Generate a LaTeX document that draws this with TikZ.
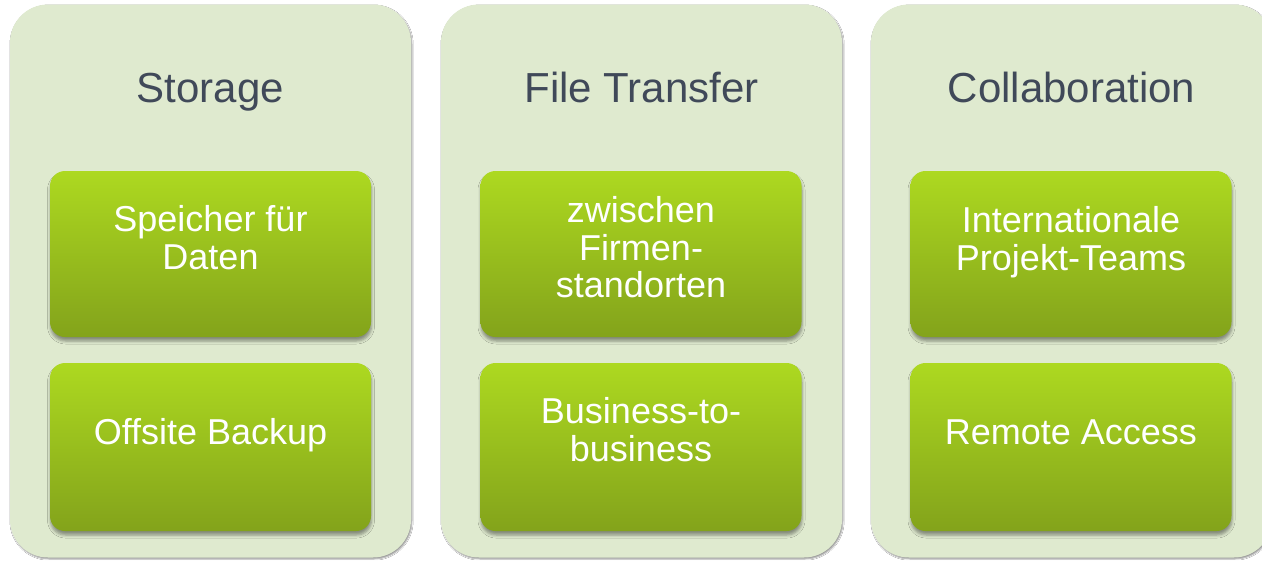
\documentclass[tikz,border=0pt]{standalone}
\usepackage{fontspec}
\setmainfont{Liberation Sans}
\usetikzlibrary{shadows.blur}
\definecolor{panelfill}{RGB}{223,234,207}
\definecolor{titlecol}{RGB}{64,73,89}
\definecolor{gtop}{RGB}{173,217,32}
\definecolor{gbot}{RGB}{131,163,27}
\tikzset{
  panel/.style={fill=panelfill, rounded corners=38pt, minimum width=401pt, minimum height=553pt, inner sep=0pt,
    blur shadow={shadow xshift=1pt, shadow yshift=-1.5pt, shadow blur radius=1.2pt}},
  itembox/.style={rounded corners=15pt, top color=gtop, bottom color=gbot, minimum width=321pt, inner sep=0pt,
    blur shadow={shadow xshift=0.5pt, shadow yshift=-4pt, shadow blur radius=3pt}},
  title/.style={font=\fontsize{42}{50}\selectfont, text=titlecol, anchor=base, inner sep=0pt},
  itemtext/.style={font=\fontsize{36}{37.5}\selectfont, text=white, anchor=base, inner sep=0pt, align=center},
}
\begin{document}
\begin{tikzpicture}[x=1pt,y=-1pt]
\useasboundingbox (0,0) rectangle (1262,560);
\fill[white] (0,0) rectangle (1262,560);
% panels
\node[panel] (p1) at (210.5,281) {};
\node[panel] (p2) at (641.5,281) {};
\node[panel] (p3) at (1071.5,281) {};
% titles
\node[title] (t1) at (210.5,102) {Storage};
\node[title] (t2) at (641.5,102) {File Transfer};
\node[title] (t3) at (1071.5,102) {Collaboration};
% item boxes
\node[itembox, minimum height=166pt] (a1) at (210.5,254) {};
\node[itembox, minimum height=168pt] (a2) at (210.5,447) {};
\node[itembox, minimum height=166pt] (b1) at (641,254) {};
\node[itembox, minimum height=168pt] (b2) at (641,447) {};
\node[itembox, minimum height=166pt] (c1) at (1071,254) {};
\node[itembox, minimum height=168pt] (c2) at (1071,447) {};
% item texts (anchor = baseline of last line)
\node[itemtext] (ta1) at (210.5,269) {Speicher für\\Daten};
\node[itemtext] (ta2) at (210.5,444) {Offsite Backup};
\node[itemtext] (tb1) at (641,297.7) {zwischen\\Firmen-\\standorten};
\node[itemtext] (tb2) at (641,461) {Business-to-\\business};
\node[itemtext] (tc1) at (1071,270) {Internationale\\Projekt-Teams};
\node[itemtext] (tc2) at (1071,444) {Remote Access};
\end{tikzpicture}
\end{document}
